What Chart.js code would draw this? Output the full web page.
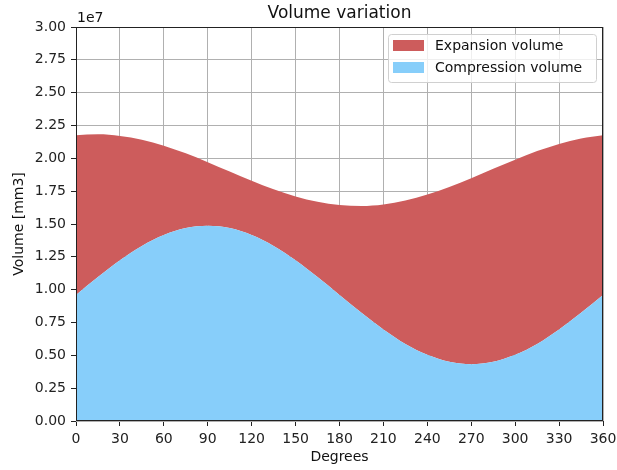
<!DOCTYPE html>
<html>
<head>
<meta charset="utf-8">
<script src="https://cdn.jsdelivr.net/npm/chart.js@4.4.1/dist/chart.umd.min.js"></script>
<style>
  body { margin: 0; background: #fff; }
</style>
</head>
<body>
<canvas id="volumeChart" width="617" height="470"></canvas>
<script>
// crank angle in degrees
const degrees = [0, 15, 30, 45, 60, 75, 90, 105, 120, 135, 150, 165, 180,
                 195, 210, 225, 240, 255, 270, 285, 300, 315, 330, 345, 360];
// volumes in units of 1e7 mm3
const compressionVolume = [0.960, 1.096, 1.224, 1.333, 1.416, 1.469, 1.487, 1.469, 1.416,
                           1.333, 1.224, 1.096, 0.960, 0.824, 0.697, 0.587, 0.504, 0.451,
                           0.433, 0.451, 0.504, 0.587, 0.697, 0.824, 0.960];
const expansionVolume = [1.216, 1.087, 0.947, 0.809, 0.680, 0.569, 0.484, 0.431, 0.414,
                         0.432, 0.486, 0.573, 0.684, 0.813, 0.952, 1.091, 1.220, 1.331,
                         1.416, 1.469, 1.486, 1.468, 1.413, 1.327, 1.216];
const legendLabels = ['Expansion volume', 'Compression volume'];
const expansionColor = '#CD5C5C';
const compressionColor = '#87CEFA';

const FONT = "'DejaVu Sans', sans-serif";
Chart.defaults.font.family = FONT;
Chart.defaults.color = '#222';

// text, frame and legend drawn the matplotlib way
const extras = {
    id: 'extras',
    afterDatasetsDraw(chart) {
        const a = chart.chartArea;
        const c = chart.ctx;
        c.save();
        c.strokeStyle = '#222';
        c.lineWidth = 1;
        c.strokeRect(a.left + 0.5, a.top + 0.5, a.right - a.left - 1, a.bottom - a.top - 1);
        c.restore();
    },
    afterDraw(chart) {
        const a = chart.chartArea;
        const c = chart.ctx;
        c.save();
        c.fillStyle = '#111';
        c.textAlign = 'center';
        c.textBaseline = 'alphabetic';
        c.font = '17px ' + FONT;
        c.fillText('Volume variation', (a.left + a.right) / 2, 18);

        c.font = '14px ' + FONT;
        c.textAlign = 'left';
        c.fillText('1e7', a.left + 1, 22);

        c.textAlign = 'center';
        c.textBaseline = 'middle';
        c.fillText('Degrees', (a.left + a.right) / 2, 457);

        c.save();
        c.translate(19, (a.top + a.bottom) / 2);
        c.rotate(-Math.PI / 2);
        c.fillText('Volume [mm3]', 0, 0);
        c.restore();

        // legend
        const lx = 388, ly = 34, lw = 208, lh = 48;
        c.beginPath();
        c.roundRect(lx + 0.5, ly + 0.5, lw, lh, 3);
        c.fillStyle = 'rgba(255,255,255,0.8)';
        c.fill();
        c.strokeStyle = '#d0d0d0';
        c.lineWidth = 1;
        c.stroke();
        const colors = [expansionColor, compressionColor];
        legendLabels.forEach((label, i) => {
            const cy = 46 + i * 22;
            c.fillStyle = colors[i];
            c.fillRect(393, cy - 6, 31, 11);
            c.fillStyle = '#111';
            c.textAlign = 'left';
            c.fillText(label, 435, cy);
        });
        c.restore();
    }
};

const ctx = document.getElementById('volumeChart').getContext('2d');
new Chart(ctx, {
    type: 'line',
    data: {
        datasets: [{
            label: legendLabels[1],
            data: degrees.map((d, i) => ({ x: d, y: compressionVolume[i] })),
            backgroundColor: compressionColor,
            borderWidth: 0,
            pointRadius: 0,
            fill: 'origin',
            cubicInterpolationMode: 'monotone'
        }, {
            label: legendLabels[0],
            data: degrees.map((d, i) => ({ x: d, y: expansionVolume[i] })),
            backgroundColor: expansionColor,
            borderWidth: 0,
            pointRadius: 0,
            fill: '-1',
            cubicInterpolationMode: 'monotone'
        }]
    },
    options: {
        responsive: false,
        animation: false,
        layout: { padding: { left: 0, top: 27, right: 0, bottom: 0 } },
        plugins: {
            legend: { display: false },
            title: { display: false },
            tooltip: { enabled: false }
        },
        scales: {
            x: {
                type: 'linear',
                min: 0,
                max: 360,
                ticks: { stepSize: 30, padding: 5, font: { size: 14 }, color: '#222', maxRotation: 0 },
                grid: { color: '#b0b0b0', tickColor: '#222', tickLength: 5 },
                border: { display: false },
                afterFit(scale) {
                    scale.height = 49;
                    scale.paddingRight = 14;
                }
            },
            y: {
                stacked: true,
                min: 0,
                max: 3,
                ticks: {
                    stepSize: 0.25,
                    padding: 5,
                    font: { size: 14 },
                    color: '#222',
                    callback: v => v.toFixed(2)
                },
                grid: { color: '#b0b0b0', tickColor: '#222', tickLength: 5 },
                border: { display: false },
                afterFit(scale) { scale.width = 76; }
            }
        }
    },
    plugins: [extras]
});
</script>
</body>
</html>
